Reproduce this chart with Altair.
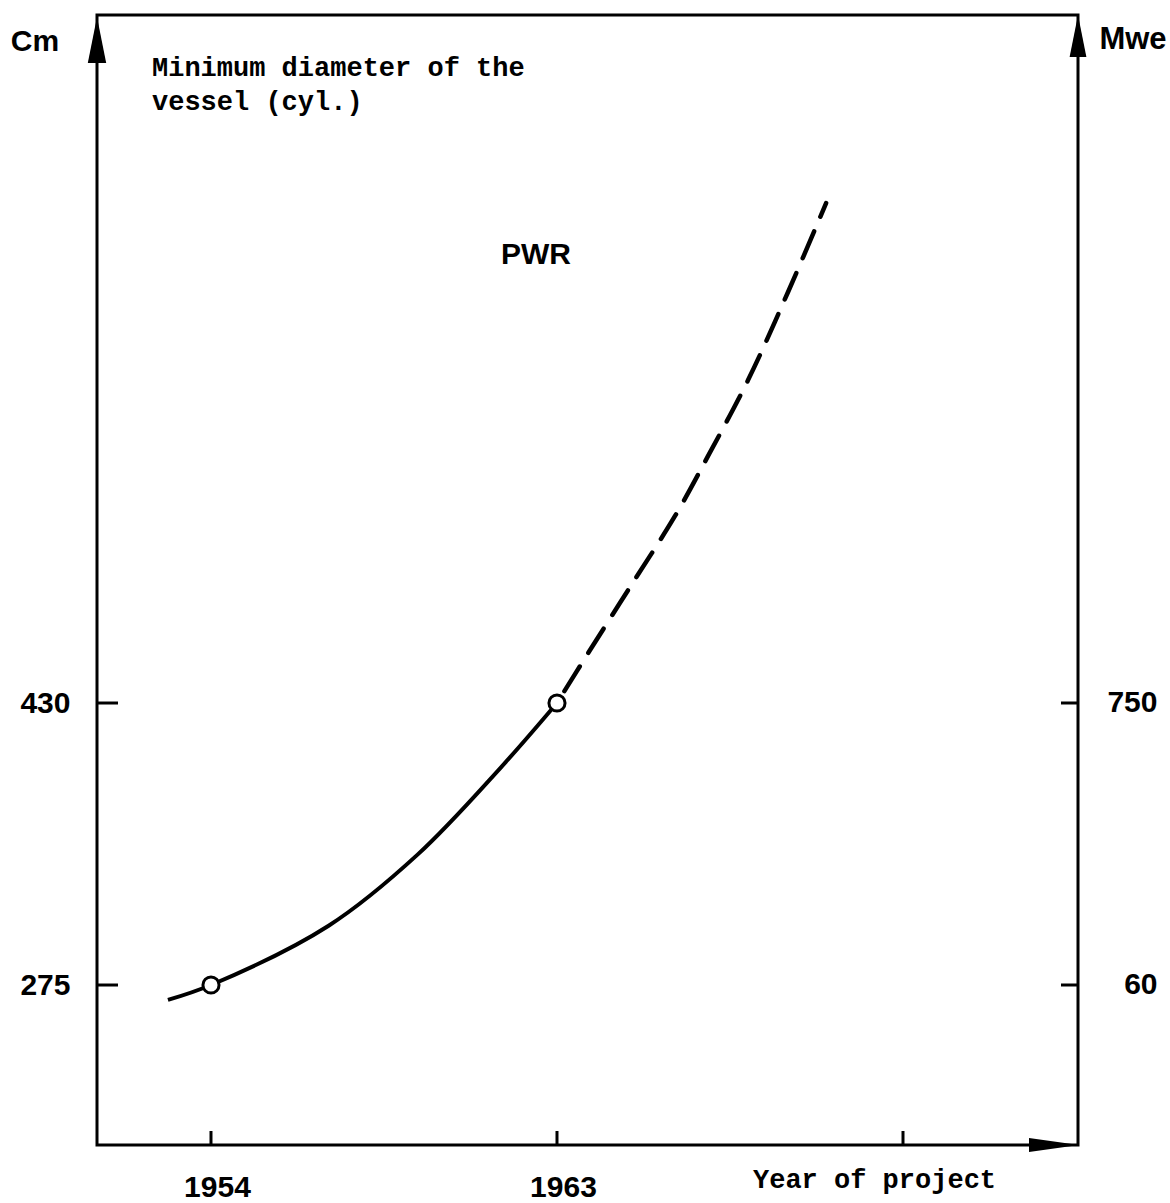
import altair as alt
import pandas as pd

# ---- data ----
years_solid = [1952.88, 1954.0, 1957.06, 1959.38, 1961.52, 1963.0]
cm_solid = [266.8, 275.0, 307.6, 346.8, 394.1, 430.0]
years_dash = [1963.0, 1963.86, 1964.95, 1966.07, 1966.93, 1967.97, 1969.01, 1970.0]
cm_dash = [430.0, 459.1, 495.4, 532.8, 565.8, 607.5, 655.9, 704.8]
point_years = [1954, 1963]
point_cm = [275, 430]
x_ticks = [1954, 1963, 1972]
x_labelled = [1954, 1963]
cm_ticks = [275, 430]
mwe_ticks = [60, 750]

X_DOM = [1951.035, 1976.552]
CM_DOM = [187.06, 808.16]
MWE_DOM = [-331.5, 2433.4]

W, H = 981, 1130
LBL_FONT = "Liberation Sans"
MONO = "Liberation Mono"

solid_df = pd.DataFrame({"year": years_solid, "cm": cm_solid})
dash_df = pd.DataFrame({"year": years_dash, "cm": cm_dash})
pts_df = pd.DataFrame({"year": point_years, "cm": point_cm})
xt_df = pd.DataFrame({"year": x_ticks})
cmt_df = pd.DataFrame({"cm": cm_ticks})
mwe_df = pd.DataFrame({"mwe": mwe_ticks})
one = pd.DataFrame({"k": [0]})

x_enc = alt.X(
    "year:Q",
    scale=alt.Scale(domain=X_DOM, nice=False, zero=False),
    axis=alt.Axis(
        values=x_labelled, format="d", title=None, orient="bottom",
        ticks=False, tickSize=0, domain=False, grid=False,
        labelPadding=27, labelOffset=6, labelFont=LBL_FONT,
        labelFontWeight="bold", labelFontSize=30, labelColor="black",
    ),
)
y_cm = alt.Y(
    "cm:Q",
    scale=alt.Scale(domain=CM_DOM, nice=False, zero=False),
    axis=alt.Axis(
        values=cm_ticks, title=None, orient="left", ticks=False, tickSize=0,
        domain=False, grid=False, labelPadding=27, labelFont=LBL_FONT,
        labelFontWeight="bold", labelFontSize=30, labelColor="black",
    ),
)

solid = alt.Chart(solid_df).mark_line(
    color="black", strokeWidth=4, interpolate="catmull-rom"
).encode(x=x_enc, y=y_cm)

dashed = alt.Chart(dash_df).mark_line(
    color="black", strokeWidth=4.5, interpolate="catmull-rom",
    strokeDash=[29, 16], strokeDashOffset=-14, strokeCap="round",
).encode(x="year:Q", y="cm:Q")

circles = alt.Chart(pts_df).mark_point(
    shape="circle", size=260, filled=True, fill="white", stroke="black",
    strokeWidth=3, opacity=1,
).encode(x="year:Q", y="cm:Q")

# inward tick marks at the data tick values
x_tick_marks = alt.Chart(xt_df).mark_rule(color="black", strokeWidth=3).encode(
    x="year:Q", y=alt.value(H - 14), y2=alt.value(H)
)
cm_tick_marks = alt.Chart(cmt_df).mark_rule(color="black", strokeWidth=3).encode(
    y="cm:Q", x=alt.value(0), x2=alt.value(21)
)

arrow_up = "M0,-1L0.4,1L-0.4,1Z"
arrow_right = "M1,0L-1,-0.28L-1,0.28Z"

arr_left = alt.Chart(one).mark_point(
    shape=arrow_up, size=46 * 46, filled=True, color="black", opacity=1
).encode(x=alt.value(0), y=alt.value(25))
arr_right = alt.Chart(one).mark_point(
    shape=arrow_up, size=42 * 42, filled=True, color="black", opacity=1
).encode(x=alt.value(W), y=alt.value(21))
arr_bottom = alt.Chart(one).mark_point(
    shape=arrow_right, size=50 * 50, filled=True, color="black", opacity=1
).encode(x=alt.value(W - 24), y=alt.value(H))


def label(txt, x, y, font, size, weight="bold", align="left"):
    return alt.Chart(one).mark_text(
        text=txt, font=font, fontSize=size, fontWeight=weight, align=align,
        baseline="middle", color="black",
    ).encode(x=alt.value(x), y=alt.value(y))


texts = [
    label("Cm", -62, 27, LBL_FONT, 30, align="center"),
    label("Mwe", 1036, 25, LBL_FONT, 31, align="center"),
    label("Minimum diameter of the", 55, 53, MONO, 27),
    label("vessel (cyl.)", 55, 87, MONO, 27),
    label("PWR", 439, 240, LBL_FONT, 30, align="center"),
    label("Year of project", 656, 1165, MONO, 27),
]

cm_layer = alt.layer(
    solid, dashed, circles, x_tick_marks, cm_tick_marks,
    arr_left, arr_right, arr_bottom, *texts,
)

mwe_y = alt.Y(
    "mwe:Q",
    scale=alt.Scale(domain=MWE_DOM, nice=False, zero=False),
    axis=alt.Axis(
        values=mwe_ticks, title=None, orient="right", ticks=False,
        tickSize=0, domain=False, grid=False, labelPadding=79,
        labelAlign="right", labelFont=LBL_FONT, labelFontWeight="bold",
        labelFontSize=30, labelColor="black",
    ),
)
mwe_layer = alt.Chart(mwe_df).mark_rule(color="black", strokeWidth=3).encode(
    y=mwe_y, x=alt.value(W - 17), x2=alt.value(W)
)

chart = (
    alt.layer(cm_layer, mwe_layer)
    .resolve_scale(y="independent")
    .properties(
        width=W, height=H, autosize=alt.AutoSizeParams(type="none"),
        padding={"left": 97, "top": 15, "right": 92, "bottom": 58},
        background="white",
    )
    .configure_view(stroke="black", strokeWidth=3)
)

chart.save("out.html", embed_options={"renderer": "svg", "actions": False})
